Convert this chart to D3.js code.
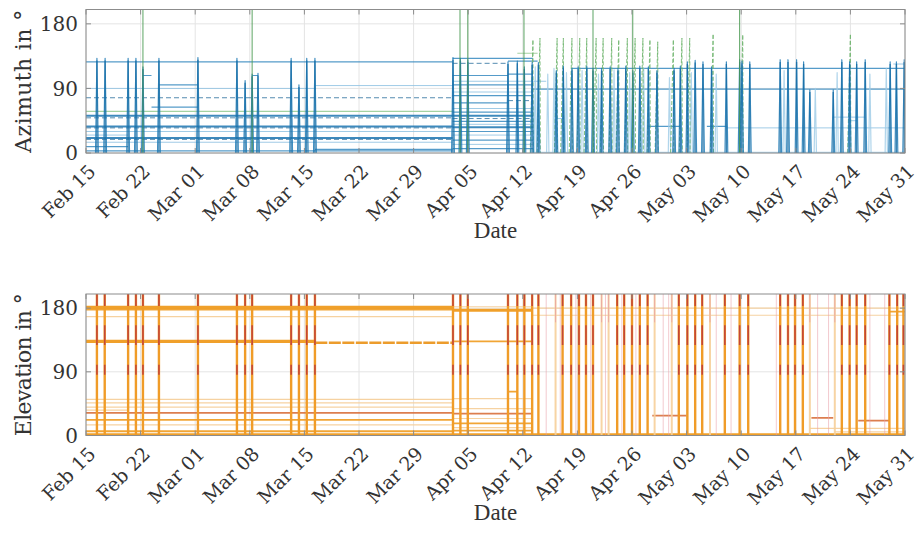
<!DOCTYPE html>
<html><head><meta charset="utf-8">
<script src="https://cdn.jsdelivr.net/npm/d3@7"></script>
<style>body{margin:0;background:#fff;}svg{display:block;}</style>
</head><body>
<svg id="c" width="918" height="546"></svg>
<script>
// ---------- DATA (day offsets counted from Feb 15) ----------
const tickDates = ["2021-02-15","2021-02-22","2021-03-01","2021-03-08","2021-03-15","2021-03-22","2021-03-29","2021-04-05","2021-04-12","2021-04-19","2021-04-26","2021-05-03","2021-05-10","2021-05-17","2021-05-24","2021-05-31"];
const yTicks = [0, 90, 180];
const yDomain = [0, 200];
const panelTitles = ["Azimuth in °", "Elevation in °"];
const xTitle = "Date";

// azimuth: constant segments [startDay, endDay, value, style]
const azLevels = [
  [0,47,127,"b"],[0,29.4,90,"l"],[29.4,47,94,"l"],[0,47,77,"d"],[0,47,58,"g"],[0,47,52,"B"],[0,47,49,"d"],
  [0,47,37,"B"],[0,47,35,"d"],[0,47,30,"l"],[0,47,21,"B"],[0,47,19,"d"],[0,47,15,"l"],[0,5.4,9,"b"],[0,5.4,25,"l"],
  [0,47,3,"b"],[7.3,8.4,108,"b"],[8.4,14.35,64,"b"],[9.35,14.35,95,"b"],[21.3,22.05,108,"b"],[29.35,47,5,"b"],
  [47,57.3,132,"b"],[47,54.1,125,"d"],[54.1,57.9,128,"b"],[47,54.1,108,"b"],[54.1,57.3,110,"b"],[47,57.3,100,"l"],
  [47,57.3,95,"b"],[47,57.3,85,"l"],[47,57.3,80,"b"],[47,54.1,70,"b"],[54.1,57.3,73,"d"],[47,57.3,62,"l"],
  [47,57.3,57,"b"],[47,57.3,52,"B"],[47,57.3,48,"d"],[47,57.3,44,"b"],[47,57.3,40,"l"],[47,57.3,36,"B"],
  [47,57.3,30,"b"],[47,57.3,25,"l"],[47,57.3,18,"b"],[47,57.3,12,"l"],[47,57.3,6,"b"],[55.3,57.9,139,"g"],
  [57.3,105,89,"b"],[62.3,105,118,"b"],[72.1,76.2,37,"b"],[79.6,82.1,37,"b"],[57.3,59,100,"l"],[82.1,105,35,"l"],
  [95.8,99.9,50,"l"],[103.5,105,124,"l"],[57.3,105,1,"l"],[60.4,61.2,48,"l"],[97.9,98.8,45,"l"]
];
// azimuth: narrow passes [day, peak]
const azSpikes = [
  [1.4,132],[2.45,132],[5.4,132],[6.4,132],[7.3,120],[9.35,132],[14.35,133],[19.35,132],[20.4,101],[21.3,110],
  [22.05,111],[26.3,132],[27.3,95],[28.3,132],[29.35,132],[47.05,133],[48.0,132],[48.95,130],[54.1,127],[55.3,128],
  [56.2,120],[57.2,126],[58.0,126],[60.3,115],[61.2,121],[62.3,118],[63.1,120],[64.2,121],[65.0,118],[66.1,118],
  [67.2,120],[68.2,118],[69.2,121],[70.1,115],[71.0,121],[72.1,120],[73.2,115],[75.4,118],[76.2,121],[77.1,127],
  [78.1,129],[79.1,127],[80.2,120],[82.1,127],[83.8,130],[84.1,128],[85.1,127],[89.0,130],[90.0,130],[91.1,130],
  [92.0,127],[92.8,88],[95.8,88],[96.9,130],[97.9,127],[98.8,127],[99.9,130],[103.1,127],[103.9,127],[104.9,130]
];
// azimuth: faint passes [day, peak]
const azFaint = [[57.6,120],[59.2,110],[60.0,118],[61.6,112],[63.6,115],[65.7,110],[67.7,116],[69.7,112],[71.5,118],
  [74.8,105],[77.6,112],[80.8,110],[89.5,115],[93.5,90],[96.3,112],[100.5,110],[102.6,118]];
// azimuth: green passes reaching the top [day]
const azGreenFull = [7.3, 21.3, 47.95, 48.95, 56.15, 65.0, 70.1, 83.8];
// azimuth: green dashed rising passes [day, peak]
const azGreenRamps = [[57.3,158],[58.2,160],[60.4,160],[61.2,160],[62.3,160],[63.3,160],[64.2,160],[65.4,160],
  [66.3,160],[67.4,160],[68.3,158],[69.4,160],[70.4,160],[71.4,160],[72.3,158],[73.3,155],[75.3,158],[76.4,160],
  [77.4,160],[80.4,166],[84.2,165],[98.0,166]];

// elevation: constant segments [startDay, endDay, value, style]
const elLevels = [
  [0,47,181,"O"],[0,47,178,"o"],[0,47,168,"p"],[0,29.4,133,"O"],[29.4,47,131,"od"],[0,47,51,"p"],[0,47,46,"p"],
  [0,47,40,"p"],[0,47,32,"r"],[0,5.4,36,"p"],[0,47,22,"o"],[0,47,15,"p"],[0,47,6,"o"],[0,105,1,"O"],
  [47,57.3,177,"O"],[47,57.3,182,"p"],[47,57.3,133,"o"],[47,57.3,52,"p"],[47,57.3,38,"p"],[47,57.3,31,"r"],
  [47,57.3,24,"p"],[47,57.3,17,"o"],[47,57.3,11,"p"],[47,57.3,7,"o"],[54.1,55.3,62,"o"],
  [57.3,105,180,"p"],[57.3,105,170,"p"],[72.6,77,28,"r"],[93,95.8,25,"r"],[99,103,21,"r"],[92.8,105,10,"p"],
  [96,105,5,"p"],[103,105,175,"o"]
];
// elevation: passes [day, kind]  s = strong, p = pale
const elPasses = [
  [1.4,"s"],[2.4,"s"],[5.4,"s"],[6.4,"s"],[7.3,"s"],[9.35,"s"],[14.35,"s"],[19.35,"s"],[20.4,"s"],[21.3,"s"],
  [26.3,"s"],[27.3,"s"],[28.3,"s"],[29.35,"s"],[47.05,"s"],[48.0,"s"],[48.95,"s"],[54.1,"s"],[55.3,"s"],[56.2,"s"],
  [57.2,"s"],[58.0,"s"],[60.2,"p"],[61.1,"s"],[62.2,"s"],[63.2,"s"],[64.1,"s"],[65.0,"s"],[66.1,"p"],[67.0,"p"],
  [68.1,"s"],[69.0,"s"],[70.0,"s"],[71.0,"s"],[72.0,"s"],[72.9,"p"],[75.1,"p"],[76.0,"s"],[77.1,"s"],[78.1,"s"],
  [79.0,"s"],[80.0,"p"],[81.9,"s"],[83.8,"s"],[84.9,"s"],[89.0,"s"],[90.0,"s"],[90.9,"s"],[91.9,"s"],[92.8,"p"],
  [96.0,"p"],[96.9,"s"],[97.9,"s"],[98.8,"s"],[99.9,"s"],[103.0,"s"],[104.0,"s"],[104.8,"s"]
];
// elevation: thin pink passes [day]
const elThin = [59.0,60.8,62.8,64.7,66.6,68.7,70.5,74.0,74.7,80.8,82.7,88.5,93.8,95.2,100.5,102.4];
// elevation: red bands on each strong pass [low, high]
const elRedBands = [[183,200],[128,156],[86,100]];

// ---------- DRAWING ----------
const svg = d3.select("#c");
const parse = d3.utcParse("%Y-%m-%d");
const t0 = parse(tickDates[0]);
const t1 = parse(tickDates[tickDates.length - 1]);
const x = d3.scaleUtc().domain([t0, t1]).range([86, 905]);
const X = d => x(new Date(t0.getTime() + d * 864e5));
const fmt = d3.utcFormat("%b %d");
const line = d3.line();

const panels = [
  {top: 9.5, bottom: 153, title: panelTitles[0], xlabY: 238},
  {top: 294, bottom: 435.5, title: panelTitles[1], xlabY: 520}
];

const defs = svg.append("defs");
panels.forEach((p, i) => {
  p.y = d3.scaleLinear().domain(yDomain).range([p.bottom, p.top]);
  defs.append("clipPath").attr("id", "clip" + i).append("rect")
    .attr("x", x.range()[0]).attr("y", p.top).attr("width", x.range()[1] - x.range()[0]).attr("height", p.bottom - p.top);
  const g = svg.append("g");
  p.g = g;
  const grid = g.append("g").attr("stroke", "#e4e4e4").attr("stroke-width", 1);
  tickDates.forEach(t => { const xx = x(parse(t)); grid.append("line").attr("x1", xx).attr("x2", xx).attr("y1", p.top).attr("y2", p.bottom); });
  yTicks.forEach(v => grid.append("line").attr("x1", x.range()[0]).attr("x2", x.range()[1]).attr("y1", p.y(v)).attr("y2", p.y(v)));
  p.data = g.append("g").attr("clip-path", `url(#clip${i})`).attr("fill", "none").attr("stroke-linejoin", "round");
});

const azStyle = {
  B: {c: "#1c76b2", w: 2, o: 0.85},
  b: {c: "#2a82bb", w: 1.2, o: 0.8},
  l: {c: "#8fc2e2", w: 1, o: 0.85},
  d: {c: "#2a6f9e", w: 1, o: 0.8, dash: "5,3"},
  g: {c: "#9acd98", w: 1.2, o: 0.9}
};
const elStyle = {
  O: {c: "#f0a02a", w: 3.2, o: 1},
  o: {c: "#f0a02a", w: 1.8, o: 0.95},
  p: {c: "#f6d09c", w: 1.2, o: 0.95},
  od: {c: "#ec9c2c", w: 2.6, o: 1, dash: "12,1.5"},
  r: {c: "#d8703c", w: 1.8, o: 0.9}
};
function seg(g, pts, s) {
  const el = g.append("path").attr("d", line(pts)).attr("stroke", s.c).attr("stroke-width", s.w).attr("stroke-opacity", s.o);
  if (s.dash) el.attr("stroke-dasharray", s.dash);
  return el;
}

// --- Azimuth panel ---
const A = panels[0], yA = A.y;
azLevels.forEach(([a, b, v, s]) => seg(A.data, [[X(a), yA(v)], [X(b), yA(v)]], azStyle[s]));
azFaint.forEach(([d, pk]) => seg(A.data, [[X(d - 0.15), yA(0)], [X(d), yA(pk)], [X(d + 0.15), yA(0)]], {c: "#9ccbe6", w: 1.2, o: 0.8}));
azGreenRamps.forEach(([d, pk]) => seg(A.data, [[X(d - 0.35), yA(0)], [X(d), yA(pk)], [X(d + 0.05), yA(0)]], {c: "#6db46c", w: 1, o: 0.85, dash: "4,2"}));
azSpikes.forEach(([d, pk]) => {
  seg(A.data, [[X(d - 0.18), yA(0)], [X(d), yA(pk)], [X(d + 0.18), yA(0)]], {c: "#1f7ab5", w: 1.2, o: 0.85});
  seg(A.data, [[X(d), yA(0)], [X(d), yA(pk - 3)]], {c: "#176da6", w: 1.3, o: 0.85});
});
azGreenFull.forEach(d => seg(A.data, [[X(d), yA(0)], [X(d), yA(200)]], {c: "#4a9a52", w: 1, o: 0.9}));

// --- Elevation panel ---
const E = panels[1], yE = E.y;
elLevels.forEach(([a, b, v, s]) => seg(E.data, [[X(a), yE(v)], [X(b), yE(v)]], elStyle[s]));
elThin.forEach(d => seg(E.data, [[X(d), yE(0)], [X(d), yE(200)]], {c: "#e9a0a8", w: 0.8, o: 0.7}));
elPasses.forEach(([d, k]) => {
  if (k === "p") {
    seg(E.data, [[X(d), yE(0)], [X(d), yE(200)]], {c: "#f6cf9a", w: 2, o: 0.9});
    seg(E.data, [[X(d), yE(160)], [X(d), yE(200)]], {c: "#e8a0a0", w: 1, o: 0.8});
  } else {
    seg(E.data, [[X(d), yE(0)], [X(d), yE(200)]], {c: "#f09c28", w: 2.4, o: 1});
    elRedBands.forEach(([lo, hi]) => seg(E.data, [[X(d), yE(lo)], [X(d), yE(hi)]], {c: "#b62a3c", w: 1.6, o: 0.75}));
  }
});

// --- frames, ticks, labels ---
panels.forEach((p, i) => {
  const g = p.g;
  const fr = g.append("g").attr("stroke", "#8c8c8c").attr("stroke-width", 1).attr("fill", "none");
  fr.append("rect").attr("x", x.range()[0]).attr("y", p.top).attr("width", x.range()[1] - x.range()[0]).attr("height", p.bottom - p.top);
  tickDates.forEach(t => {
    const xx = x(parse(t));
    fr.append("line").attr("x1", xx).attr("x2", xx).attr("y1", p.bottom).attr("y2", p.bottom - 5);
    fr.append("line").attr("x1", xx).attr("x2", xx).attr("y1", p.top).attr("y2", p.top + 5);
  });
  yTicks.forEach(v => {
    fr.append("line").attr("x1", x.range()[0]).attr("x2", x.range()[0] + 5).attr("y1", p.y(v)).attr("y2", p.y(v));
    fr.append("line").attr("x1", x.range()[1]).attr("x2", x.range()[1] - 5).attr("y1", p.y(v)).attr("y2", p.y(v));
  });
  const tl = g.append("g").attr("font-family", "DejaVu Serif, serif").attr("fill", "#333");
  yTicks.forEach(v => tl.append("text").attr("x", 78).attr("y", p.y(v)).attr("dy", "0.36em")
    .attr("text-anchor", "end").attr("font-size", 20).text(v));
  tickDates.forEach(t => {
    const xx = x(parse(t));
    tl.append("text").attr("transform", `translate(${xx + 6},${p.bottom + 15}) rotate(-45)`)
      .attr("dy", "0.35em").attr("text-anchor", "end").attr("font-size", 19).text(fmt(parse(t)));
  });
  g.append("text").attr("transform", `translate(31,${(p.top + p.bottom) / 2}) rotate(-90)`)
    .attr("text-anchor", "middle").attr("font-family", "DejaVu Serif, serif").attr("font-size", 22)
    .attr("textLength", 143).attr("lengthAdjust", "spacing").attr("fill", "#333").text(p.title);
  g.append("text").attr("x", (x.range()[0] + x.range()[1]) / 2).attr("y", p.xlabY)
    .attr("text-anchor", "middle").attr("font-family", "Liberation Serif, serif").attr("font-size", 23).attr("fill", "#333").text(xTitle);
});
</script>
</body></html>
